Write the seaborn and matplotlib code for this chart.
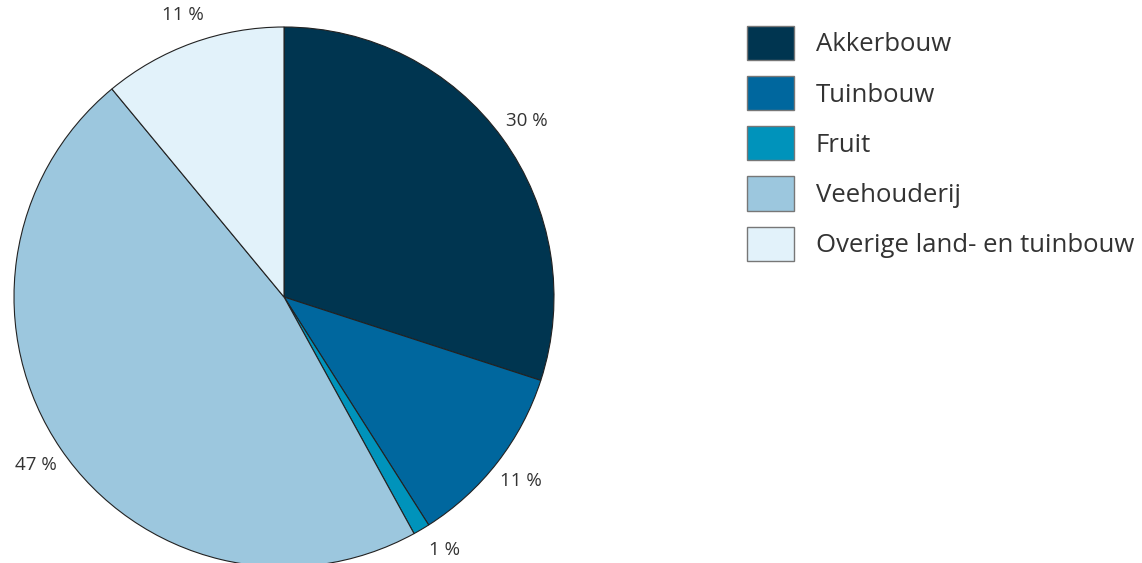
import matplotlib.pyplot as plt
import seaborn as sns
from matplotlib.patches import Patch

# Data
categories = ['Akkerbouw', 'Tuinbouw', 'Fruit', 'Veehouderij', 'Overige land- en tuinbouw']
shares = [30, 11, 1, 47, 11]
share_labels = ['30 %', '11 %', '1 %', '47 %', '11 %']
colors = ['#003550', '#00679e', '#0093bb', '#9cc7de', '#e2f2fa']

sns.set_theme(style='white')
plt.rcParams['font.family'] = ['Open Sans', 'DejaVu Sans']

fig = plt.figure(figsize=(11.42, 5.63), dpi=100)
W, H = 1142, 563

# Pie axes: centre (284, 297) px, radius 270 px
cx, cy, r = 284, 297, 270
ax = fig.add_axes([(cx - r) / W, (H - cy - r) / H, 2 * r / W, 2 * r / H])
wedges, texts = ax.pie(shares, labels=share_labels, colors=colors, startangle=90,
                       counterclock=False, labeldistance=1.11,
                       wedgeprops=dict(edgecolor='#222222', linewidth=0.8),
                       textprops=dict(fontsize=13.5, color='#333333'))
for t in texts:
    t.set_ha('center')
    t.set_va('center')
# keep the small bottom label inside the picture
texts[2].set_position((texts[2].get_position()[0] + 0.03, texts[2].get_position()[1] + 0.02))
ax.set_xlim(-1, 1)
ax.set_ylim(-1, 1)
ax.set_aspect('equal')
ax.axis('off')

# Legend
handles = [Patch(facecolor=c, edgecolor='#777777', linewidth=1) for c in colors]
fs = 18.5
fpx = fs * 100 / 72
fig.legend(handles, categories, loc='upper left',
           bbox_to_anchor=(747 / W, 1 - 26 / H), bbox_transform=fig.transFigure,
           frameon=False, fontsize=fs, borderpad=0, borderaxespad=0,
           handlelength=47 / fpx, handleheight=1.26 * 34 / fpx,
           handletextpad=22 / fpx, labelspacing=16 / fpx,
           labelcolor='#333333')

fig.savefig('out.png', dpi=100)
